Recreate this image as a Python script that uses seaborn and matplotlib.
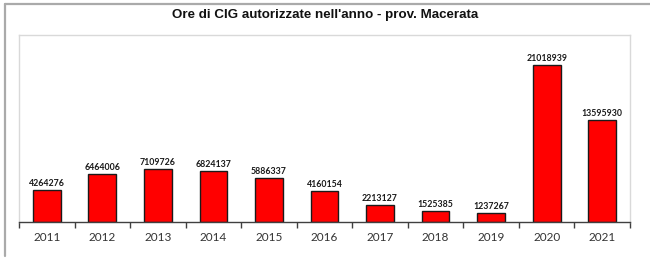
import matplotlib
matplotlib.use("Agg")
import matplotlib.pyplot as plt
import seaborn as sns
import pandas as pd
from matplotlib.lines import Line2D

years = ["2011", "2012", "2013", "2014", "2015", "2016", "2017", "2018", "2019", "2020", "2021"]
hours = [4264276, 6464006, 7109726, 6824137, 5886337, 4160154, 2213127, 1525385, 1237267, 21018939, 13595930]

df = pd.DataFrame({"anno": years, "ore": hours})

sns.set_theme(style="white")
plt.rcParams['font.family'] = ['Liberation Sans', 'DejaVu Sans']

fig = plt.figure(figsize=(6.5, 2.6), dpi=100)
ax = fig.add_axes([19/650, 1 - 222/260, (630 - 19)/650, (222 - 35)/260])

sns.barplot(data=df, x="anno", y="ore", color="#ff0000", edgecolor="#1a1a1a",
            linewidth=1.0, width=0.5, saturation=1, ax=ax)

ax.set_ylim(0, 25_000_000)
ax.set_xlim(-0.5, len(years) - 0.5)
ax.set_xlabel("")
ax.set_ylabel("")
ax.set_yticks([])

for c in ax.containers:
    ax.bar_label(c, labels=[str(v) for v in hours], padding=1.5,
                 fontsize=6.3, fontweight="bold", family="Lato", color="#1a1a1a")

# spines
for s in ["top", "right", "left"]:
    ax.spines[s].set_color("#d9d9d9")
    ax.spines[s].set_linewidth(1.0)
ax.spines["bottom"].set_color("#404040")
ax.spines["bottom"].set_linewidth(1.0)

# ticks at category boundaries
ax.set_xticks([i - 0.5 for i in range(len(years) + 1)], minor=False)
ax.set_xticklabels([])
ax.set_xticks(range(len(years)), minor=True)
ax.set_xticklabels(years, minor=True, fontsize=8.5, family="Lato", color="#333333")
ax.tick_params(axis="x", which="major", direction="out", length=4, width=1,
               color="#404040", bottom=True)
ax.tick_params(axis="x", which="minor", length=0, pad=7)

fig.suptitle("Ore di CIG autorizzate nell'anno - prov. Macerata", x=325/650, y=1 - 9/260,
             fontsize=9.6, fontweight="bold", va="top", color="#111111")

# outer frame lines
fig.add_artist(Line2D([5/650, 5/650], [1 - 4/260, 1 - 256/260], color="#aaaaaa", lw=1.6,
                      transform=fig.transFigure))
fig.add_artist(Line2D([5/650, 1.0], [1 - 4/260, 1 - 4/260], color="#aaaaaa", lw=1.6,
                      transform=fig.transFigure))

fig.savefig("out.png", dpi=100)
